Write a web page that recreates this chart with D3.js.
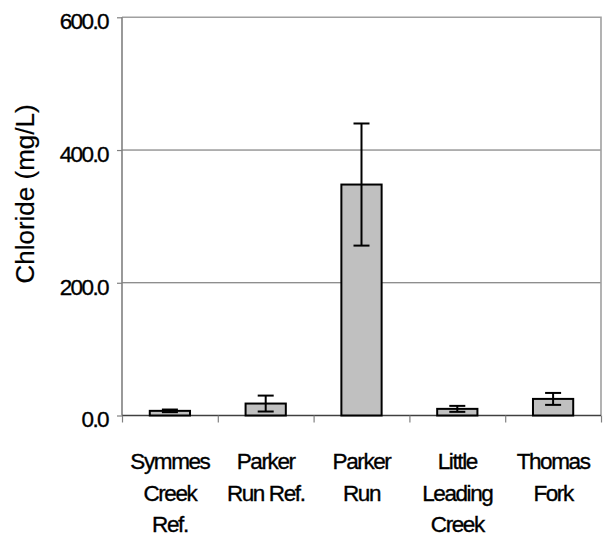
<!DOCTYPE html>
<html><head><meta charset="utf-8">
<script src="https://cdn.jsdelivr.net/npm/d3@7"></script>
<style>body{margin:0;background:#fff}svg{display:block}text{font-family:"Liberation Sans",Arial,sans-serif;fill:#000;stroke:#000;stroke-width:0.35px}</style>
</head><body><svg id="c" width="606" height="543"></svg>
<script>
const categories = [["Symmes","Creek","Ref."],["Parker","Run Ref."],["Parker","Run"],["Little","Leading","Creek"],["Thomas","Fork"]];
const values = [7, 18, 348, 10, 25];
const errors = [2, 12, 92, 4.5, 9];
const yTicks = [0, 200, 400, 600];
const yTitle = "Chloride (mg/L)";

const svg = d3.select("#c");
const L = 122, R = 601, T = 17.3, B = 415.5;
const x = d3.scaleBand().domain(d3.range(categories.length)).range([L, R]).paddingInner(0.58).paddingOuter(0.29);
const xb = d3.scaleLinear().domain([0, categories.length]).range([L, R]);
const y = d3.scaleLinear().domain([0, 600]).range([B, T]);

// gridlines
svg.append("g").selectAll("line").data(yTicks.filter(d => d > 0 && d < 600)).join("line")
  .attr("x1", L).attr("x2", R).attr("y1", d => y(d)).attr("y2", d => y(d))
  .attr("stroke", "#666").attr("stroke-width", 1);
// plot border top/right
svg.append("path").attr("d", `M${L},${T}H${R}V${B}`).attr("fill", "none").attr("stroke", "#a0a0a0").attr("stroke-width", 1.6);

// y axis
const ya = svg.append("g").attr("transform", `translate(${L},0)`)
  .call(d3.axisLeft(y).tickValues(yTicks).tickSize(5).tickFormat(d3.format(".1f")));
ya.select(".domain").attr("stroke", "#808080").attr("stroke-width", 1.6).attr("d", `M0,${T}V${B}`);
ya.selectAll(".tick line").attr("stroke", "#808080").attr("stroke-width", 1.2);
ya.selectAll(".tick text").attr("x", -14).attr("dy", "0.5em")
  .style("font-size", "22.5px").style("letter-spacing", "-1.6px").attr("fill", "#000");

// x axis
const xa = svg.append("g").attr("transform", `translate(0,${B})`)
  .call(d3.axisBottom(xb).tickValues(d3.range(categories.length + 1)).tickSize(7).tickFormat(""));
xa.select(".domain").attr("stroke", "#404040").attr("stroke-width", 1.6).attr("d", `M${L},0H${R}`);
xa.selectAll(".tick line").attr("stroke", "#808080").attr("stroke-width", 1.2);

// bars
svg.append("g").selectAll("rect").data(values).join("rect")
  .attr("x", (d, i) => x(i)).attr("width", x.bandwidth())
  .attr("y", d => y(d)).attr("height", d => y(0) - y(d))
  .attr("fill", "#c0c0c0").attr("stroke", "#000").attr("stroke-width", 2);

// error bars
const eg = svg.append("g").attr("stroke", "#000").attr("stroke-width", 2);
values.forEach((v, i) => {
  const cx = x(i) + x.bandwidth() / 2;
  const lo = y(v - errors[i]), hi = y(v + errors[i]);
  eg.append("line").attr("x1", cx).attr("x2", cx).attr("y1", lo).attr("y2", hi);
  eg.append("line").attr("x1", cx - 8).attr("x2", cx + 8).attr("y1", lo).attr("y2", lo);
  eg.append("line").attr("x1", cx - 8).attr("x2", cx + 8).attr("y1", hi).attr("y2", hi);
});

// category labels
const cl = svg.append("g");
categories.forEach((lines, i) => {
  const cx = x(i) + x.bandwidth() / 2;
  const t = cl.append("text").attr("text-anchor", "middle").style("font-size", "22.5px").style("letter-spacing", "-1.4px");
  lines.forEach((s, j) => t.append("tspan").attr("x", cx).attr("y", 469 + j * 31.5).text(s));
});

// y title
svg.append("text").attr("transform", "translate(34,194) rotate(-90)").attr("text-anchor", "middle")
  .style("font-size", "26px").style("stroke-width", "0.2px").text(yTitle);
</script></body></html>
